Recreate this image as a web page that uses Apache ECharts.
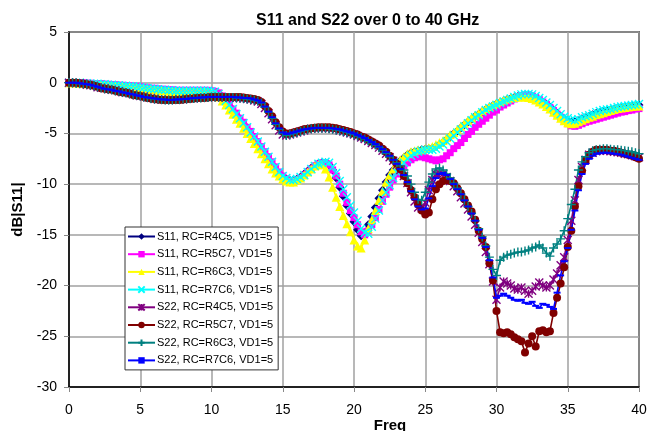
<!DOCTYPE html>
<html>
<head>
<meta charset="utf-8">
<script src="https://cdn.jsdelivr.net/npm/echarts@6.0.0/dist/echarts.min.js"></script>
<style>
  html, body { margin: 0; padding: 0; background: #fff; }
  #chart { width: 648px; height: 431px; }
</style>
</head>
<body>
<div id="chart"></div>
<script>
// frequency grid, GHz
const freq = [
  0, 0.25, 0.5, 0.75, 1, 1.25, 1.5, 1.75, 2, 2.25, 2.5, 2.75, 3, 3.25, 3.5, 3.75, 4, 4.25, 4.5, 4.75,
  5, 5.25, 5.5, 5.75, 6, 6.25, 6.5, 6.75, 7, 7.25, 7.5, 7.75, 8, 8.25, 8.5, 8.75, 9, 9.25, 9.5, 9.75,
  10, 10.25, 10.5, 10.75, 11, 11.25, 11.5, 11.75, 12, 12.25, 12.5, 12.75, 13, 13.25, 13.5, 13.75, 14, 14.25, 14.5, 14.75,
  15, 15.25, 15.5, 15.75, 16, 16.25, 16.5, 16.75, 17, 17.25, 17.5, 17.75, 18, 18.25, 18.5, 18.75, 19, 19.25, 19.5, 19.75,
  20, 20.25, 20.5, 20.75, 21, 21.25, 21.5, 21.75, 22, 22.25, 22.5, 22.75, 23, 23.25, 23.5, 23.75, 24, 24.25, 24.5, 24.75,
  25, 25.25, 25.5, 25.75, 26, 26.25, 26.5, 26.75, 27, 27.25, 27.5, 27.75, 28, 28.25, 28.5, 28.75, 29, 29.25, 29.5, 29.75,
  30, 30.25, 30.5, 30.75, 31, 31.25, 31.5, 31.75, 32, 32.25, 32.5, 32.75, 33, 33.25, 33.5, 33.75, 34, 34.25, 34.5, 34.75,
  35, 35.25, 35.5, 35.75, 36, 36.25, 36.5, 36.75, 37, 37.25, 37.5, 37.75, 38, 38.25, 38.5, 38.75, 39, 39.25, 39.5, 39.75,
  40
];

// S11 curves (dB)
const s11_R4C5 = [
  0, 0, 0, -0.05, -0.05, -0.1, -0.1, -0.15, -0.2, -0.2, -0.25, -0.3, -0.3, -0.35, -0.4, -0.4, -0.45, -0.5, -0.5, -0.55,
  -0.6, -0.65, -0.7, -0.7, -0.75, -0.8, -0.8, -0.85, -0.85, -0.85, -0.85, -0.85, -0.85, -0.85, -0.85, -0.85, -0.85, -0.85, -0.85, -0.85,
  -0.9, -1.0, -1.2, -1.5, -1.9, -2.3, -2.8, -3.2, -3.7, -4.1, -4.6, -5.1, -5.6, -6.1, -6.6, -7.1, -7.6, -8.1, -8.6, -9.0,
  -9.3, -9.5, -9.6, -9.6, -9.5, -9.3, -9.0, -8.7, -8.4, -8.2, -8.0, -7.9, -7.9, -8.1, -8.6, -9.4, -10.3, -11.2, -12.1, -12.9,
  -13.7, -14.5, -15.1, -14.8, -14.0, -13.2, -12.3, -11.4, -10.6, -9.8, -9.1, -8.6, -8.1, -7.7, -7.4, -7.1, -6.9, -6.8, -6.7, -6.6,
  -6.55, -6.5, -6.45, -6.3, -6.1, -5.9, -5.6, -5.3, -5.0, -4.75, -4.45, -4.15, -3.85, -3.6, -3.3, -3.1, -2.85, -2.65, -2.45, -2.25,
  -2.1, -1.95, -1.8, -1.65, -1.55, -1.45, -1.35, -1.3, -1.25, -1.25, -1.35, -1.5, -1.7, -1.9, -2.15, -2.4, -2.7, -3.0, -3.3, -3.55,
  -3.75, -3.85, -3.85, -3.7, -3.55, -3.4, -3.3, -3.15, -3.0, -2.9, -2.8, -2.75, -2.7, -2.6, -2.5, -2.45, -2.4, -2.35, -2.3, -2.25,
  -2.2
];
const s11_R5C7 = [
  0, 0, 0, 0, 0, -0.05, -0.05, -0.1, -0.1, -0.1, -0.15, -0.15, -0.2, -0.2, -0.25, -0.25, -0.3, -0.3, -0.35, -0.35,
  -0.4, -0.45, -0.5, -0.55, -0.55, -0.6, -0.65, -0.65, -0.7, -0.7, -0.75, -0.75, -0.75, -0.75, -0.75, -0.75, -0.75, -0.75, -0.75, -0.75,
  -0.8, -0.85, -1.0, -1.3, -1.7, -2.1, -2.6, -3.0, -3.5, -3.9, -4.4, -4.8, -5.3, -5.8, -6.3, -6.8, -7.3, -7.8, -8.3, -8.8,
  -9.2, -9.5, -9.7, -9.7, -9.6, -9.4, -9.1, -8.8, -8.5, -8.2, -8.0, -7.9, -7.9, -8.1, -8.6, -9.2, -10.0, -10.9, -11.8, -12.6,
  -13.3, -14.0, -14.7, -15.0, -14.6, -14.0, -13.3, -12.5, -11.7, -11.0, -10.3, -9.6, -9.0, -8.6, -8.2, -7.9, -7.6, -7.4, -7.3, -7.3,
  -7.4, -7.5, -7.6, -7.7, -7.6, -7.5, -7.2, -6.9, -6.5, -6.2, -5.9, -5.5, -5.1, -4.8, -4.4, -4.1, -3.8, -3.5, -3.2, -2.9,
  -2.7, -2.4, -2.2, -2.0, -1.8, -1.6, -1.4, -1.3, -1.2, -1.2, -1.3, -1.45, -1.65, -1.9, -2.15, -2.45, -2.75, -3.1, -3.4, -3.75,
  -4.05, -4.25, -4.3, -4.2, -4.05, -3.9, -3.8, -3.7, -3.6, -3.5, -3.4, -3.3, -3.2, -3.1, -3.0, -2.9, -2.85, -2.75, -2.7, -2.6,
  -2.55
];
const s11_R6C3 = [
  0, 0, 0, -0.05, -0.05, -0.1, -0.1, -0.15, -0.15, -0.2, -0.2, -0.25, -0.3, -0.3, -0.35, -0.35, -0.4, -0.45, -0.45, -0.5,
  -0.55, -0.6, -0.65, -0.7, -0.7, -0.75, -0.8, -0.8, -0.85, -0.85, -0.9, -0.9, -0.9, -0.9, -0.9, -0.9, -0.9, -0.9, -0.9, -0.95,
  -1.0, -1.1, -1.4, -1.8, -2.2, -2.7, -3.1, -3.6, -4.0, -4.5, -5.0, -5.5, -6.0, -6.5, -7.0, -7.5, -8.0, -8.5, -8.9, -9.2,
  -9.5, -9.7, -9.8, -9.8, -9.6, -9.4, -9.1, -8.8, -8.5, -8.2, -8.1, -8.1, -8.5, -9.3, -10.3, -11.3, -12.2, -13.1, -13.9, -14.7,
  -15.5, -16.1, -16.3, -15.5, -14.4, -13.5, -12.6, -11.6, -10.7, -9.8, -9.1, -8.5, -8.0, -7.6, -7.3, -7.0, -6.8, -6.7, -6.6, -6.6,
  -6.5, -6.4, -6.3, -6.1, -5.9, -5.7, -5.4, -5.1, -4.9, -4.6, -4.3, -4.0, -3.7, -3.45, -3.2, -3.0, -2.75, -2.55, -2.35, -2.15,
  -2.0, -1.85, -1.7, -1.6, -1.5, -1.45, -1.4, -1.4, -1.4, -1.45, -1.55, -1.7, -1.9, -2.1, -2.35, -2.6, -2.9, -3.2, -3.5, -3.75,
  -3.95, -4.05, -4.0, -3.85, -3.7, -3.55, -3.4, -3.3, -3.15, -3.05, -2.95, -2.85, -2.75, -2.65, -2.55, -2.5, -2.45, -2.4, -2.35, -2.3,
  -2.3
];
const s11_R7C6 = [
  0, 0, 0, 0, -0.05, -0.05, -0.1, -0.1, -0.1, -0.15, -0.15, -0.2, -0.2, -0.25, -0.25, -0.3, -0.3, -0.35, -0.35, -0.4,
  -0.45, -0.5, -0.55, -0.6, -0.6, -0.65, -0.7, -0.7, -0.75, -0.75, -0.8, -0.8, -0.8, -0.8, -0.8, -0.8, -0.8, -0.8, -0.8, -0.8,
  -0.85, -0.9, -1.1, -1.4, -1.8, -2.2, -2.6, -3.1, -3.5, -4.0, -4.4, -4.9, -5.3, -5.8, -6.3, -6.8, -7.3, -7.8, -8.3, -8.8,
  -9.2, -9.4, -9.6, -9.6, -9.5, -9.3, -9.1, -8.8, -8.5, -8.2, -8.0, -7.9, -7.8, -7.9, -8.3, -8.9, -9.7, -10.5, -11.3, -12.1,
  -12.8, -13.6, -14.4, -14.8, -14.9, -14.2, -13.4, -12.6, -11.6, -10.8, -10.1, -9.4, -8.8, -8.3, -7.9, -7.5, -7.2, -7.0, -6.8, -6.7,
  -6.6, -6.6, -6.6, -6.5, -6.3, -6.1, -5.8, -5.5, -5.2, -4.9, -4.6, -4.3, -4.0, -3.7, -3.4, -3.2, -2.9, -2.7, -2.5, -2.35,
  -2.2, -2.0, -1.85, -1.7, -1.55, -1.4, -1.25, -1.15, -1.1, -1.1, -1.15, -1.3, -1.5, -1.7, -1.95, -2.2, -2.5, -2.8, -3.1, -3.35,
  -3.5, -3.65, -3.7, -3.6, -3.4, -3.3, -3.2, -3.05, -2.9, -2.8, -2.7, -2.65, -2.6, -2.5, -2.4, -2.35, -2.3, -2.25, -2.2, -2.15,
  -2.1
];

// S22 curves (dB)
const s22_R4C5 = [
  0, 0, -0.05, -0.05, -0.1, -0.2, -0.25, -0.3, -0.45, -0.5, -0.55, -0.65, -0.7, -0.75, -0.85, -0.95, -1.0, -1.05, -1.15, -1.25,
  -1.3, -1.35, -1.45, -1.5, -1.6, -1.65, -1.65, -1.7, -1.7, -1.7, -1.7, -1.65, -1.65, -1.6, -1.55, -1.55, -1.5, -1.5, -1.45, -1.45,
  -1.4, -1.4, -1.45, -1.45, -1.45, -1.45, -1.5, -1.5, -1.5, -1.55, -1.6, -1.65, -1.75, -1.85, -2.1, -2.5, -3.0, -3.6, -4.2, -4.7,
  -5.1, -5.2, -5.1, -5.0, -4.9, -4.8, -4.7, -4.6, -4.55, -4.5, -4.5, -4.5, -4.5, -4.5, -4.55, -4.6, -4.7, -4.8, -4.9, -5.0,
  -5.1, -5.25, -5.4, -5.55, -5.75, -5.95, -6.15, -6.4, -6.7, -7.0, -7.35, -7.7, -8.1, -8.6, -9.2, -9.9, -10.8, -11.7, -12.3, -12.4,
  -11.8, -10.6, -9.6, -9.0, -8.9, -9.0, -9.3, -9.7, -10.2, -10.7, -11.3, -11.9, -12.5, -13.2, -14.0, -14.8, -15.7, -16.7, -17.9, -19.6,
  -21.4, -20.2, -19.6, -19.8, -20.0, -20.3, -20.4, -20.2, -20.5, -20.8, -20.5, -20.1, -19.7, -20.0, -20.2, -20.0, -19.4, -18.8, -18.0, -17.2,
  -15.5, -13.6, -11.6, -9.6, -8.3, -7.6, -7.1, -6.9, -6.75, -6.7, -6.7, -6.7, -6.75, -6.8, -6.85, -6.9, -7.0, -7.05, -7.15, -7.25,
  -7.35
];
const s22_R5C7 = [
  0, 0, 0, -0.05, -0.1, -0.15, -0.2, -0.3, -0.4, -0.55, -0.6, -0.65, -0.7, -0.8, -0.9, -0.95, -1.0, -1.1, -1.2, -1.25,
  -1.3, -1.4, -1.5, -1.55, -1.6, -1.65, -1.7, -1.7, -1.7, -1.7, -1.7, -1.7, -1.65, -1.6, -1.6, -1.55, -1.5, -1.5, -1.5, -1.45,
  -1.4, -1.4, -1.4, -1.4, -1.4, -1.4, -1.4, -1.4, -1.4, -1.45, -1.5, -1.55, -1.6, -1.7, -1.9, -2.3, -2.8, -3.3, -3.9, -4.4,
  -4.8, -5.0, -5.0, -4.9, -4.8, -4.7, -4.6, -4.55, -4.5, -4.45, -4.4, -4.4, -4.4, -4.4, -4.45, -4.5, -4.6, -4.65, -4.75, -4.85,
  -5.0, -5.1, -5.3, -5.4, -5.6, -5.8, -6.0, -6.2, -6.5, -6.8, -7.2, -7.6, -8.0, -8.5, -9.2, -9.9, -10.6, -11.3, -12.0, -12.6,
  -13.0, -12.8, -11.5, -10.5, -10.0, -9.7, -9.6, -9.7, -9.9, -10.4, -10.9, -11.5, -12.1, -12.7, -13.5, -14.6, -15.4, -16.2, -17.8, -19.5,
  -22.5, -24.6, -24.7, -24.6, -24.8, -25.1, -25.3, -25.5, -26.6, -25.7, -25.0, -26.0, -24.5, -24.4, -24.6, -24.5, -22.7, -21.2, -19.8, -18.2,
  -16.2, -14.6, -12.2, -10.2, -8.7, -7.7, -7.1, -6.8, -6.6, -6.6, -6.6, -6.6, -6.7, -6.7, -6.8, -6.9, -7.0, -7.1, -7.2, -7.35,
  -7.5
];
const s22_R6C3 = [
  0, 0, -0.05, -0.1, -0.1, -0.15, -0.25, -0.3, -0.4, -0.5, -0.6, -0.65, -0.7, -0.8, -0.85, -0.95, -1.0, -1.1, -1.15, -1.25,
  -1.3, -1.4, -1.45, -1.55, -1.6, -1.6, -1.65, -1.7, -1.7, -1.7, -1.65, -1.65, -1.6, -1.6, -1.55, -1.55, -1.5, -1.5, -1.45, -1.45,
  -1.4, -1.4, -1.4, -1.4, -1.45, -1.45, -1.45, -1.5, -1.5, -1.55, -1.6, -1.65, -1.7, -1.8, -2.0, -2.4, -2.9, -3.5, -4.1, -4.6,
  -5.0, -5.2, -5.1, -5.0, -4.9, -4.8, -4.7, -4.6, -4.55, -4.5, -4.5, -4.5, -4.5, -4.55, -4.6, -4.65, -4.7, -4.8, -4.9, -5.0,
  -5.1, -5.25, -5.4, -5.55, -5.75, -5.95, -6.15, -6.4, -6.65, -6.95, -7.3, -7.6, -7.9, -8.2, -8.6, -9.2, -10.0, -10.8, -11.5, -11.6,
  -10.8, -9.8, -9.0, -8.5, -8.4, -8.6, -9.0, -9.4, -9.9, -10.4, -11.0, -11.6, -12.2, -12.9, -13.6, -14.4, -15.2, -16.1, -17.2, -18.4,
  -19.0, -17.5, -17.2, -17.0, -16.9, -16.8, -16.7, -16.7, -16.6, -16.5, -16.3, -16.2, -16.0, -16.3, -16.8, -17.1, -16.3, -15.9, -15.4, -14.6,
  -13.4, -12.0, -10.5, -8.6, -7.8, -7.3, -6.9, -6.7, -6.6, -6.55, -6.5, -6.5, -6.55, -6.6, -6.6, -6.65, -6.7, -6.75, -6.8, -6.9,
  -7.0
];
const s22_R7C6 = [
  0, 0, 0, -0.05, -0.1, -0.15, -0.2, -0.3, -0.4, -0.5, -0.6, -0.65, -0.7, -0.8, -0.85, -0.95, -1.0, -1.1, -1.15, -1.25,
  -1.3, -1.4, -1.45, -1.5, -1.55, -1.6, -1.65, -1.65, -1.7, -1.7, -1.65, -1.65, -1.6, -1.6, -1.55, -1.5, -1.5, -1.45, -1.45, -1.4,
  -1.4, -1.4, -1.4, -1.4, -1.4, -1.4, -1.4, -1.45, -1.45, -1.5, -1.5, -1.55, -1.65, -1.75, -1.95, -2.35, -2.85, -3.4, -4.0, -4.5,
  -4.9, -5.05, -5.0, -4.9, -4.8, -4.7, -4.6, -4.55, -4.5, -4.45, -4.45, -4.45, -4.45, -4.45, -4.5, -4.55, -4.6, -4.7, -4.8, -4.9,
  -5.0, -5.15, -5.3, -5.45, -5.65, -5.85, -6.05, -6.3, -6.55, -6.85, -7.2, -7.6, -8.0, -8.5, -9.1, -9.8, -10.7, -11.5, -12.2, -12.5,
  -12.4, -11.4, -10.2, -9.4, -9.0, -8.9, -9.1, -9.5, -10.0, -10.5, -11.0, -11.6, -12.2, -12.9, -13.6, -14.5, -15.3, -16.2, -17.5, -19.2,
  -21.2, -21.0, -20.8, -21.0, -21.2, -21.4, -21.5, -21.4, -21.7, -21.8, -21.6, -22.0, -22.2, -21.8, -21.9, -22.1, -22.3, -20.7, -19.0, -17.6,
  -16.3, -14.5, -12.6, -10.6, -9.0, -8.0, -7.5, -7.2, -7.0, -6.95, -6.9, -6.9, -6.95, -7.0, -7.05, -7.1, -7.2, -7.3, -7.4, -7.5,
  -7.6
];

const xTicks = [0, 5, 10, 15, 20, 25, 30, 35, 40];
const yTicks = [-30, -25, -20, -15, -10, -5, 0, 5];

const font = 'Liberation Sans, Arial, sans-serif';

function pairs(vals) {
  return freq.map(function (f, i) { return [f, vals[i]]; });
}

// one entry per trace: name, values, colour, marker
const traces = [
  { name: 'S11, RC=R4C5, VD1=5', data: s11_R4C5, color: '#000080', symbol: 'diamond', size: 9 },
  { name: 'S11, RC=R5C7, VD1=5', data: s11_R5C7, color: '#ff00ff', symbol: 'rect', size: 7 },
  { name: 'S11, RC=R6C3, VD1=5', data: s11_R6C3, color: '#ffff00', symbol: 'triangle', size: 9 },
  { name: 'S11, RC=R7C6, VD1=5', data: s11_R7C6, color: '#00ffff', symbol: 'path://M0,0L10,10M0,10L10,0', size: 8, stroke: true },
  { name: 'S22, RC=R4C5, VD1=5', data: s22_R4C5, color: '#800080', symbol: 'path://M0,0L10,10M0,10L10,0M5,0L5,10', size: 8, stroke: true },
  { name: 'S22, RC=R5C7, VD1=5', data: s22_R5C7, color: '#800000', symbol: 'circle', size: 8 },
  { name: 'S22, RC=R6C3, VD1=5', data: s22_R6C3, color: '#008080', symbol: 'path://M5,0L5,10M0,5L10,5', size: 9, stroke: true },
  { name: 'S22, RC=R7C6, VD1=5', data: s22_R7C6, color: '#0000ff', symbol: 'rect', size: [7, 2] }
];

let myChart = echarts.init(document.getElementById('chart'), null, { renderer: 'canvas' });

let series = traces.map(function (t) {
  return {
    name: t.name,
    type: 'line',
    data: pairs(t.data),
    symbol: t.symbol,
    symbolSize: t.size,
    showAllSymbol: true,
    lineStyle: { color: t.color, width: 1.6 },
    itemStyle: t.stroke
      ? { color: t.color, borderColor: t.color, borderWidth: 1.4 }
      : { color: t.color, borderWidth: 0 },
    emphasis: { disabled: true }
  };
});

let option = {
  animation: false,
  backgroundColor: '#fff',
  textStyle: { fontFamily: font },
  title: {
    text: 'S11 and S22 over 0 to 40 GHz',
    left: 251,
    top: 8,
    textStyle: { fontFamily: font, fontSize: 16, fontWeight: 'bold', color: '#000' }
  },
  legend: {
    orient: 'vertical',
    left: 125,
    top: 227,
    padding: [4, 5, 4, 2],
    itemWidth: 27,
    itemHeight: 8,
    itemGap: 6.7,
    backgroundColor: '#fff',
    borderColor: '#333',
    borderWidth: 1,
    borderRadius: 0,
    textStyle: { fontFamily: font, fontSize: 11, color: '#000', padding: [0, 0, 0, -3] },
    data: traces.map(function (t) { return t.name; })
  },
  grid: {
    left: 69,
    right: 9,
    top: 32,
    bottom: 44,
    show: true,
    borderColor: '#000',
    borderWidth: 1.5,
    containLabel: false,
    outerBoundsMode: 'none'
  },
  xAxis: {
    type: 'value',
    min: xTicks[0],
    max: xTicks[xTicks.length - 1],
    interval: 5,
    name: 'Freq',
    nameLocation: 'middle',
    nameGap: 31,
    nameMoveOverlap: false,
    nameTextStyle: { fontFamily: font, fontSize: 15, fontWeight: 'bold', color: '#000', padding: [0, 0, 0, 72] },
    axisLine: { onZero: false, lineStyle: { color: '#000', width: 1.5 } },
    axisTick: { show: true, length: 5, lineStyle: { color: '#888' } },
    axisLabel: { fontFamily: font, fontSize: 14, color: '#000', margin: 16 },
    splitLine: { show: true, lineStyle: { color: '#a0a0a0', width: 1.5 } }
  },
  yAxis: {
    type: 'value',
    min: yTicks[0],
    max: yTicks[yTicks.length - 1],
    interval: 5,
    name: 'dB|S11|',
    nameLocation: 'middle',
    nameGap: 44,
    nameMoveOverlap: false,
    nameRotate: 90,
    nameTextStyle: { fontFamily: font, fontSize: 15, fontWeight: 'bold', color: '#000' },
    axisLine: { onZero: false, lineStyle: { color: '#000', width: 1.5 } },
    axisTick: { show: true, length: 5, lineStyle: { color: '#888' } },
    axisLabel: { fontFamily: font, fontSize: 14, color: '#000', margin: 12 },
    splitLine: { show: true, lineStyle: { color: '#a0a0a0', width: 1.5 } }
  },
  series: series
};

myChart.setOption(option);
</script>
</body>
</html>
